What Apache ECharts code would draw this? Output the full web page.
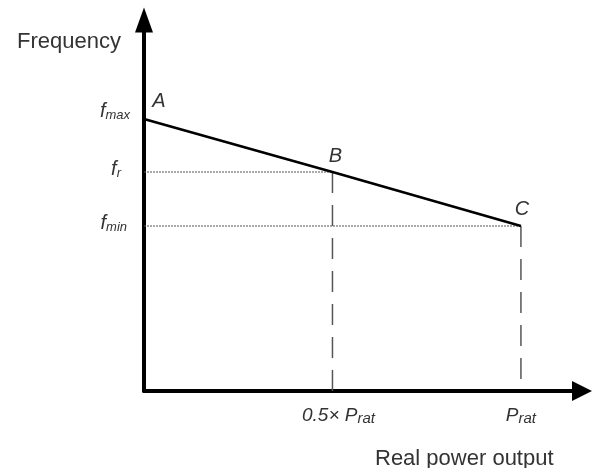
<!DOCTYPE html>
<html>
<head>
<meta charset="utf-8">
<script src="https://cdn.jsdelivr.net/npm/echarts@6/dist/echarts.min.js"></script>
<style>html,body{margin:0;padding:0;background:#fff}#c{width:592px;height:468px}</style>
</head>
<body>
<div id="c"></div>
<script>
// Data (abstract units: P_rat = 1)
const pointNames = ['A', 'B', 'C'];
const powerX = [0, 0.5, 1];
const freqY = [2.72, 2.19, 1.65];           // f_max, f_r, f_min
const yTickValues = [2.72, 2.19, 1.65];
const yTickLabels = ['max', 'r', 'min'];     // subscripts of f
const xTickValues = [0.5, 1];
const xTickPrefix = ['0.5× ', ''];
const xTickSub = ['rat', 'rat'];
const xMax = 1.162;
const yMax = 3.71;
const xName = 'Real power output';
const yName = 'Frequency';

const font = "'Liberation Sans', Arial, sans-serif";
const txt = '#333';

// per-label layout tweaks (style only)
const yLabelLift = [16, 6, 6];
const yLabelPadRight = [0, 9, 3];

const chart = echarts.init(document.getElementById('c'), null, {renderer: 'canvas'});

const mainData = powerX.map((x, i) => ({
  value: [x, freqY[i]],
  name: pointNames[i],
  label: {offset: [[15, -18], [3, -16], [1, -17]][i]}
}));

const yRich = {
  f: {fontFamily: font, fontStyle: 'italic', fontSize: 20, color: txt, lineHeight: 22},
  s: {fontFamily: font, fontStyle: 'italic', fontSize: 13, color: txt, lineHeight: 12, verticalAlign: 'bottom'}
};
yLabelLift.forEach((h, i) => { yRich['g' + i] = {height: h, lineHeight: h, fontSize: 1}; });
yLabelPadRight.forEach((w, i) => { yRich['p' + i] = {width: w, fontSize: 1}; });

const option = {
  animation: false,
  backgroundColor: '#fff',
  title: [
    {text: yName, left: 12, top: 26, textStyle: {fontFamily: font, fontSize: 22, fontWeight: 'normal', color: txt, lineHeight: 22}},
    {text: xName, left: 370, top: 443, textStyle: {fontFamily: font, fontSize: 22, fontWeight: 'normal', color: txt, lineHeight: 22}}
  ],
  grid: {left: 144, right: 10, top: 20, bottom: 77, containLabel: false},
  xAxis: {
    type: 'value', min: 0, max: xMax,
    axisLine: {show: true, onZero: false, symbol: ['none', 'triangle'], symbolSize: [20, 20],
      lineStyle: {color: '#000', width: 4}},
    axisTick: {show: false},
    splitLine: {show: false},
    axisLabel: {
      show: true, margin: 15, customValues: xTickValues,
      formatter: function (v) {
        const i = xTickValues.indexOf(v);
        if (i < 0) return '';
        return (xTickPrefix[i] ? '{pad|}{n|' + xTickPrefix[i] + '}' : '') + '{p|P}{s|' + xTickSub[i] + '}';
      },
      rich: {
        pad: {width: 12},
        n: {fontFamily: font, fontStyle: 'italic', fontSize: 19, color: txt, lineHeight: 20},
        p: {fontFamily: font, fontStyle: 'italic', fontSize: 19, color: txt, lineHeight: 20},
        s: {fontFamily: font, fontStyle: 'italic', fontSize: 15, color: txt, lineHeight: 12, verticalAlign: 'bottom'}
      }
    }
  },
  yAxis: {
    type: 'value', min: 0, max: yMax,
    axisLine: {show: true, onZero: false, symbol: ['none', 'triangle'], symbolSize: [18, 25],
      lineStyle: {color: '#000', width: 4}},
    axisTick: {show: false},
    splitLine: {show: false},
    axisLabel: {
      show: true, margin: 14, customValues: yTickValues,
      formatter: function (v) {
        const i = yTickValues.indexOf(v);
        if (i < 0) return '';
        return '{f|f}{s|' + yTickLabels[i] + '}{p' + i + '|}\n{g' + i + '|}';
      },
      rich: yRich
    }
  },
  series: [
    {
      type: 'line', silent: true, z: 2,
      data: [[0, freqY[1]], [powerX[1], freqY[1]]],
      symbol: 'none',
      lineStyle: {color: '#555', width: 1, type: [2, 1]}
    },
    {
      type: 'line', silent: true, z: 2,
      data: [[0, freqY[2]], [powerX[2], freqY[2]]],
      symbol: 'none',
      lineStyle: {color: '#555', width: 1, type: [2, 1]}
    },
    {
      type: 'line', silent: true, z: 2,
      data: [[powerX[1], freqY[1]], [powerX[1], 0]],
      symbol: 'none',
      lineStyle: {color: '#555', width: 1.5, type: [21, 12]}
    },
    {
      type: 'line', silent: true, z: 2,
      data: [[powerX[2], freqY[2]], [powerX[2], 0]],
      symbol: 'none',
      lineStyle: {color: '#555', width: 1.5, type: [21, 12]}
    },
    {
      type: 'line', silent: true, z: 3,
      data: mainData,
      symbol: 'circle', symbolSize: 0, showSymbol: true,
      itemStyle: {color: '#000'},
      lineStyle: {color: '#000', width: 2.6},
      label: {
        show: true, position: 'inside',
        formatter: p => p.name,
        fontFamily: font, fontStyle: 'italic', fontSize: 20, color: txt
      }
    }
  ]
};
chart.setOption(option);
</script>
</body>
</html>
